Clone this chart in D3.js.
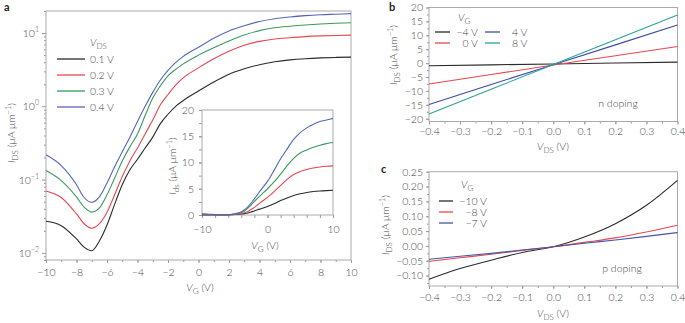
<!DOCTYPE html>
<html>
<head>
<meta charset="utf-8">
<style>
  body { margin: 0; background: #fff; }
  svg { display: block; font-family: Lato, "Open Sans", sans-serif; font-weight: 300; }
  .tick text { fill: #444; font-size: 10.5px; font-family: Lato, "Open Sans", sans-serif; font-weight: 300; }
  .tick line { stroke: #999; }
  .frame { fill: none; stroke: #aaa; stroke-width: 1; }
  .lbl { fill: #444; font-size: 10.5px; }
  .curve { fill: none; stroke-width: 1.1; }
</style>
</head>
<body>
<svg width="685" height="323"></svg>
<script src="https://d3js.org/d3.v7.min.js"></script>
<script>
// panel a: transfer curves, I_DS vs V_G (log), one curve per V_DS
const vg = [-10, -9, -8, -7.5, -7, -6.5, -6, -5.5, -5, -4.5, -4, -3.5, -3, -2.5, -2, -1.5, -1, 0, 1, 2, 3, 4, 5, 6, 7, 8, 9, 10];
const vdsNames = ["0.1 V", "0.2 V", "0.3 V", "0.4 V"];
const ids01 = [0.027, 0.0235, 0.0155, 0.012, 0.0107, 0.0145, 0.024, 0.046, 0.085, 0.136, 0.19, 0.27, 0.38, 0.58, 0.78, 1.0, 1.2, 1.62, 2.15, 2.75, 3.25, 3.7, 4.05, 4.3, 4.47, 4.58, 4.65, 4.7];
const ids02 = [0.07, 0.057, 0.034, 0.025, 0.0217, 0.025, 0.036, 0.062, 0.11, 0.18, 0.27, 0.42, 0.65, 1.05, 1.45, 1.95, 2.45, 3.35, 4.45, 5.65, 6.8, 7.7, 8.3, 8.65, 8.95, 9.15, 9.28, 9.36];
const ids03 = [0.133, 0.097, 0.058, 0.042, 0.036, 0.041, 0.062, 0.105, 0.18, 0.28, 0.42, 0.75, 1.3, 1.9, 2.6, 3.2, 3.8, 5.0, 6.3, 7.8, 9.4, 10.8, 11.8, 12.4, 12.9, 13.3, 13.6, 13.8];
const ids04 = [0.218, 0.155, 0.085, 0.057, 0.049, 0.058, 0.09, 0.15, 0.24, 0.38, 0.62, 1.0, 1.55, 2.29, 3.09, 3.94, 4.8, 6.4, 8.5, 10.7, 12.6, 14.4, 15.7, 16.6, 17.3, 17.8, 18.1, 18.4];
const colorsA = ["#2b2b2b", "#e8474f", "#3a9a5c", "#5566b8"];

// panel b: output curves, n doping
const vdsB = [-0.4, -0.2, 0, 0.2, 0.4];
const vgNamesB = ["\u22124 V", "0 V", "4 V", "8 V"];
const idsBm4 = [-0.95, -0.62, -0.3, 0.03, 0.36];
const idsB0 = [-7.5, -4.1, -0.7, 2.65, 6.0];
const idsB4 = [-14.9, -7.7, -0.6, 6.55, 13.7];
const idsB8 = [-18.3, -9.4, -0.5, 8.4, 17.3];
const colorsB = ["#2b2b2b", "#e8474f", "#3a4ca3", "#2aa39a"];

// panel c: output curves, p doping
const vdsC = [-0.4, -0.3, -0.2, -0.1, 0, 0.1, 0.2, 0.3, 0.4];
const vgNamesC = ["\u221210 V", "\u22128 V", "\u22127 V"];
const idsCm10 = [-0.112, -0.076, -0.048, -0.022, -0.003, 0.03, 0.075, 0.137, 0.221];
const idsCm8 = [-0.052, -0.04, -0.028, -0.015, -0.003, 0.012, 0.027, 0.047, 0.07];
const idsCm7 = [-0.045, -0.035, -0.025, -0.014, -0.003, 0.009, 0.02, 0.032, 0.045];
const colorsC = ["#2b2b2b", "#e8474f", "#4455aa"];

const svg = d3.select("svg");

// text with italic symbol + subscript + rest, optional rotation
function symLabel(g, x, y, sym, sub, rest, rotate, anchor) {
  const t = g.append("text").attr("class", "lbl")
    .attr("text-anchor", anchor || "middle")
    .attr("transform", `translate(${x},${y})` + (rotate ? " rotate(-90)" : ""));
  t.append("tspan").attr("font-style", "italic").text(sym);
  t.append("tspan").attr("dy", 3).attr("font-size", "8px").text(sub);
  if (rest) t.append("tspan").attr("dy", -3).text(rest);
  return t;
}
function currentLabel(g, x, y, sub) {
  const t = symLabel(g, x, y, "I", sub, " (\u03bcA \u03bcm", true);
  t.append("tspan").attr("dy", -4).attr("font-size", "7.5px").text("\u22121");
  t.append("tspan").attr("dy", 4).text(")");
}
function axisStyle(sel) {
  sel.select(".domain").remove();
}

// ---------------- panel a ----------------
const xa = d3.scaleLinear([-10, 10], [46, 351]);
const ya = d3.scaleLog([0.008, 20], [260, 11]);
const ga = svg.append("g");

ga.append("g").attr("transform", "translate(0,260)")
  .call(d3.axisBottom(xa).tickValues(d3.range(-10, 11, 1)).tickSize(2).tickFormat("")).call(axisStyle);
ga.append("g").attr("transform", "translate(0,260)")
  .call(d3.axisBottom(xa).tickValues(d3.range(-10, 11, 2)).tickSize(3).tickPadding(6)).call(axisStyle);

const minorLog = [];
[0.001, 0.01, 0.1, 1, 10].forEach(d => { for (let k = 2; k < 10; k++) { const v = d * k; if (v >= 0.008 && v <= 20) minorLog.push(v); } });
ga.append("g").attr("transform", "translate(46,0)")
  .call(d3.axisLeft(ya).tickValues(minorLog).tickSize(2).tickFormat("")).call(axisStyle);
ga.append("g").attr("transform", "translate(46,0)")
  .call(d3.axisLeft(ya).tickValues([0.01, 0.1, 1, 10]).tickSize(4).tickFormat("")).call(axisStyle);
[-2, -1, 0, 1].forEach(e => {
  const t = ga.append("text").attr("x", 39).attr("y", ya(Math.pow(10, e)) + 4)
    .attr("text-anchor", "end").attr("fill", "#444").attr("font-size", "10.5px");
  t.append("tspan").text("10");
  t.append("tspan").attr("dy", -5).attr("font-size", "7px").text(e < 0 ? "\u2212" + (-e) : String(e));
});
ga.append("rect").attr("class", "frame").attr("x", 46).attr("y", 11).attr("width", 305).attr("height", 249);

const seriesA = [ids01, ids02, ids03, ids04];
const lineA = d3.line().x((d, i) => xa(vg[i])).y(d => ya(d)).curve(d3.curveMonotoneX);
ga.selectAll(".ca").data(seriesA).join("path").attr("class", "curve")
  .attr("stroke", (d, i) => colorsA[i]).attr("d", lineA);

symLabel(ga, 200, 291, "V", "G", " (V)");
currentLabel(ga, 15, 133, "DS");
ga.append("text").attr("x", 4).attr("y", 11).attr("font-weight", "bold").attr("font-size", "11px").attr("fill", "#222").text("a");

// legend a
symLabel(ga, 90, 46, "V", "DS", null, false, "start");
vdsNames.forEach((n, i) => {
  const y = 59 + i * 16;
  ga.append("line").attr("x1", 57).attr("x2", 85).attr("y1", y).attr("y2", y)
    .attr("stroke", colorsA[i]).attr("stroke-width", 1.3);
  ga.append("text").attr("class", "lbl").attr("x", 90).attr("y", y + 4).text(n);
});

// inset
const xi = d3.scaleLinear([-10, 10], [202, 333]);
const yi = d3.scaleLinear([0, 20], [215, 110]);
const gi = svg.append("g");
gi.append("rect").attr("x", 202).attr("y", 110).attr("width", 131).attr("height", 105).attr("fill", "#fff");
gi.append("g").attr("transform", "translate(0,215)")
  .call(d3.axisBottom(xi).tickValues(d3.range(-10, 11, 2)).tickSize(3).tickFormat("")).call(axisStyle);
gi.append("g").attr("transform", "translate(0,215)")
  .call(d3.axisBottom(xi).tickValues([-10, 0, 10]).tickSize(3).tickPadding(8)).call(axisStyle);
gi.append("g").attr("transform", "translate(202,0)")
  .call(d3.axisLeft(yi).tickValues(d3.range(0, 20.1, 2.5)).tickSize(3).tickFormat("")).call(axisStyle);
gi.append("g").attr("transform", "translate(202,0)")
  .call(d3.axisLeft(yi).tickValues([0, 5, 10, 15, 20]).tickSize(3).tickPadding(5)).call(axisStyle);
gi.append("rect").attr("class", "frame").attr("x", 202).attr("y", 110).attr("width", 131).attr("height", 105);
const lineI = d3.line().x((d, i) => xi(vg[i])).y(d => yi(d)).curve(d3.curveMonotoneX);
gi.selectAll(".ci").data(seriesA).join("path").attr("class", "curve")
  .attr("stroke", (d, i) => colorsA[i]).attr("d", lineI);
symLabel(gi, 265, 249, "V", "G", " (V)");
currentLabel(gi, 176, 166, "ds");

// ---------------- panel b ----------------
const xb = d3.scaleLinear([-0.4, 0.4], [429, 677.5]);
const yb = d3.scaleLinear([-21, 20], [121.5, 7.5]);
const gb = svg.append("g");
gb.append("g").attr("transform", "translate(0,121.5)")
  .call(d3.axisBottom(xb).tickValues(d3.range(-0.4, 0.401, 0.05)).tickSize(2).tickFormat("")).call(axisStyle);
gb.append("g").attr("transform", "translate(0,121.5)")
  .call(d3.axisBottom(xb).tickValues(d3.range(-4, 5, 1).map(d => d / 10)).tickSize(3).tickPadding(3).tickFormat(d3.format(".1f"))).call(axisStyle);
gb.append("g").attr("transform", "translate(429,0)")
  .call(d3.axisLeft(yb).tickValues(d3.range(-20, 20.1, 2.5)).tickSize(2).tickFormat("")).call(axisStyle);
gb.append("g").attr("transform", "translate(429,0)")
  .call(d3.axisLeft(yb).tickValues(d3.range(-20, 21, 5)).tickSize(3).tickPadding(3)).call(axisStyle);
gb.append("rect").attr("class", "frame").attr("x", 429).attr("y", 7.5).attr("width", 248.5).attr("height", 114);
const seriesB = [idsBm4, idsB0, idsB4, idsB8];
const lineB = d3.line().x((d, i) => xb(vdsB[i])).y(d => yb(d));
gb.selectAll(".cb").data(seriesB).join("path").attr("class", "curve")
  .attr("stroke", (d, i) => colorsB[i]).attr("d", lineB);
symLabel(gb, 553, 150, "V", "DS", " (V)");
currentLabel(gb, 397, 55, "DS");
gb.append("text").attr("x", 389).attr("y", 11).attr("font-weight", "bold").attr("font-size", "11px").attr("fill", "#222").text("b");
symLabel(gb, 458, 21, "V", "G", null, false, "start");
vgNamesB.forEach((n, i) => {
  const col = Math.floor(i / 2), row = i % 2;
  const y = 32 + row * 11;
  const x0 = col ? 485 : 435;
  gb.append("line").attr("x1", x0).attr("x2", x0 + 15).attr("y1", y).attr("y2", y)
    .attr("stroke", colorsB[i]).attr("stroke-width", 1.3);
  gb.append("text").attr("class", "lbl").attr("x", col ? 512 : 478).attr("y", y + 4)
    .attr("text-anchor", col ? "start" : "end").text(n);
});
gb.append("text").attr("class", "lbl").attr("x", 618).attr("y", 107).attr("text-anchor", "middle").text("n doping");

// ---------------- panel c ----------------
const xc = d3.scaleLinear([-0.4, 0.4], [429, 677.5]);
const yc = d3.scaleLinear([-0.135, 0.25], [286, 171.7]);
const gc = svg.append("g");
gc.append("g").attr("transform", "translate(0,286)")
  .call(d3.axisBottom(xc).tickValues(d3.range(-0.4, 0.401, 0.05)).tickSize(2).tickFormat("")).call(axisStyle);
gc.append("g").attr("transform", "translate(0,286)")
  .call(d3.axisBottom(xc).tickValues(d3.range(-4, 5, 1).map(d => d / 10)).tickSize(3).tickPadding(5).tickFormat(d3.format(".1f"))).call(axisStyle);
gc.append("g").attr("transform", "translate(429,0)")
  .call(d3.axisLeft(yc).tickValues(d3.range(-5, 11, 1).map(d => d / 40)).tickSize(2).tickFormat("")).call(axisStyle);
gc.append("g").attr("transform", "translate(429,0)")
  .call(d3.axisLeft(yc).tickValues(d3.range(-2, 6, 1).map(d => d / 20)).tickSize(3).tickPadding(3).tickFormat(d3.format(".2f"))).call(axisStyle);
gc.append("rect").attr("class", "frame").attr("x", 429).attr("y", 171.7).attr("width", 248.5).attr("height", 114.3);
const seriesC = [idsCm10, idsCm8, idsCm7];
const lineC = d3.line().x((d, i) => xc(vdsC[i])).y(d => yc(d)).curve(d3.curveMonotoneX);
gc.selectAll(".cc").data(seriesC).join("path").attr("class", "curve")
  .attr("stroke", (d, i) => colorsC[i]).attr("d", lineC);
symLabel(gc, 553, 317, "V", "DS", " (V)");
currentLabel(gc, 389, 225, "DS");
gc.append("text").attr("x", 381).attr("y", 173).attr("font-weight", "bold").attr("font-size", "11px").attr("fill", "#222").text("c");
symLabel(gc, 461, 188, "V", "G", null, false, "start");
vgNamesC.forEach((n, i) => {
  const y = 201 + i * 11;
  gc.append("line").attr("x1", 439).attr("x2", 453).attr("y1", y).attr("y2", y)
    .attr("stroke", colorsC[i]).attr("stroke-width", 1.3);
  gc.append("text").attr("class", "lbl").attr("x", 487).attr("y", y + 4)
    .attr("text-anchor", "end").text(n);
});
gc.append("text").attr("class", "lbl").attr("x", 622).attr("y", 272).attr("text-anchor", "middle").text("p doping");
</script>
</body>
</html>
